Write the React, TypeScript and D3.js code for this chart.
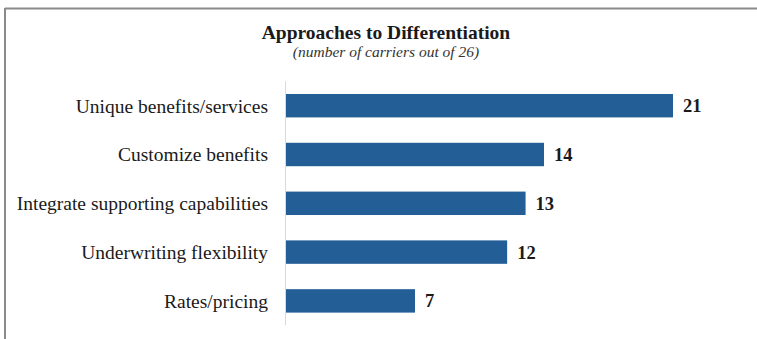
import React from "react";
import * as d3 from "d3";

const categories = [
  "Unique benefits/services",
  "Customize benefits",
  "Integrate supporting capabilities",
  "Underwriting flexibility",
  "Rates/pricing",
];
const values = [21, 14, 13, 12, 7];
const title = "Approaches to Differentiation";
const subtitle = "(number of carriers out of 26)";

const W = 757;
const H = 339;

export default function App() {
  const x = d3.scaleLinear().domain([0, 21]).range([286, 673]);
  const y = d3
    .scaleBand<string>()
    .domain(categories)
    .range([81.3, 325.3])
    .paddingInner(0.52)
    .paddingOuter(0.26);
  const font = "'Liberation Serif', 'Times New Roman', serif";
  return (
    <svg
      width={W}
      height={H}
      style={{ position: "absolute", left: 0, top: 0, background: "#fff" }}
      fontFamily={font}
    >
      <rect x={0} y={0} width={W} height={H} fill="#fff" />
      <line x1={5} y1={8.5} x2={W} y2={8.5} stroke="#8a8a8a" strokeWidth={2} />
      <line x1={5} y1={8} x2={5} y2={H} stroke="#8a8a8a" strokeWidth={2} />
      <text x={386} y={39} textAnchor="middle" fontSize={19.5} fontWeight="bold" fill="#1a1a1a">
        {title}
      </text>
      <text x={386} y={57} textAnchor="middle" fontSize={15.5} fontStyle="italic" fill="#333">
        {subtitle}
      </text>
      <line x1={285.5} y1={y.range()[0]} x2={285.5} y2={y.range()[1]} stroke="#d9d9d9" strokeWidth={1} />
      {categories.map((c, i) => {
        const yy = y(c)!;
        const bh = y.bandwidth();
        return (
          <g key={c}>
            <rect x={x(0)} y={yy} width={x(values[i]) - x(0)} height={bh} fill="#245E97" />
            <text
              x={268}
              y={yy + bh / 2}
              dy="0.35em"
              textAnchor="end"
              fontSize={19.5}
              fill="#1a1a1a"
            >
              {c}
            </text>
            <text
              x={x(values[i]) + 10}
              y={yy + bh / 2}
              dy="0.35em"
              fontSize={18.5}
              fontWeight="bold"
              fill="#1a1a1a"
            >
              {values[i]}
            </text>
          </g>
        );
      })}
    </svg>
  );
}
